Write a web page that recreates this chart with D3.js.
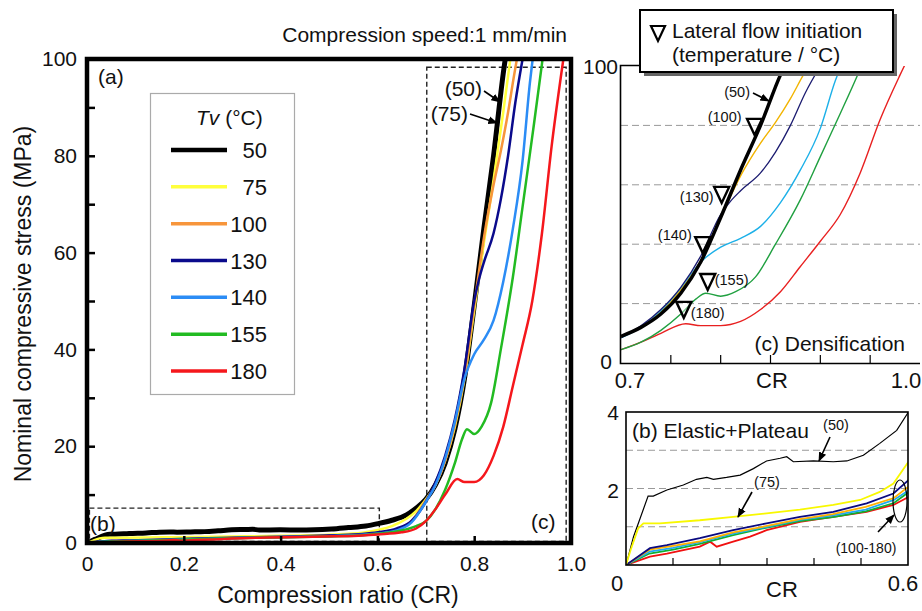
<!DOCTYPE html>
<html>
<head>
<meta charset="utf-8">
<script src="https://cdn.jsdelivr.net/npm/d3@7"></script>
<style>
body { margin: 0; background: #fff; }
text { font-family: "Liberation Sans", Arial, sans-serif; fill: #111; }
</style>
</head>
<body>
<svg id="fig" width="922" height="611"></svg>
<script>
// ---- data (CR, nominal stress MPa) ----
const temps = ["50", "75", "100", "130", "140", "155", "180"];

const cr50 = [0, 0.001, 0.016, 0.047, 0.058, 0.087, 0.122, 0.150, 0.172, 0.186, 0.214, 0.243, 0.271, 0.299, 0.328, 0.342, 0.356, 0.399, 0.441, 0.470, 0.505, 0.540, 0.576, 0.601, 0.63, 0.66, 0.68, 0.70, 0.72, 0.74, 0.76, 0.78, 0.80, 0.82, 0.84, 0.86, 0.87];
const s50 = [0, 0.04, 0.74, 1.8, 1.8, 1.96, 2.09, 2.24, 2.29, 2.24, 2.29, 2.35, 2.52, 2.72, 2.79, 2.83, 2.70, 2.72, 2.70, 2.72, 2.87, 3.18, 3.52, 4.0, 4.7, 5.8, 7.2, 9.0, 12.0, 16.5, 23.5, 34, 49, 65, 80, 97, 104];

const cr75 = [0, 0.01, 0.026, 0.037, 0.072, 0.157, 0.228, 0.299, 0.37, 0.441, 0.498, 0.54, 0.569, 0.601, 0.63, 0.66, 0.68, 0.70, 0.72, 0.74, 0.76, 0.78, 0.80, 0.82, 0.84, 0.86, 0.88];
const s75 = [0, 0.4, 0.96, 1.09, 1.09, 1.17, 1.26, 1.35, 1.45, 1.57, 1.70, 1.91, 2.13, 2.70, 3.5, 5.0, 6.6, 9.0, 12.0, 17.0, 24.0, 34.0, 48.0, 62.0, 75.0, 89.0, 104];

const cr100 = [0, 0.05, 0.1, 0.157, 0.228, 0.3, 0.37, 0.44, 0.51, 0.57, 0.601, 0.64, 0.67, 0.70, 0.72, 0.74, 0.76, 0.78, 0.80, 0.82, 0.84, 0.855, 0.87, 0.882, 0.89];
const s100 = [0, 0.4, 0.5, 0.62, 0.85, 1.02, 1.2, 1.33, 1.52, 1.75, 2.05, 2.8, 4.5, 8.8, 12.0, 17.0, 24.5, 34.5, 49.0, 63.0, 74.0, 81.0, 89.0, 96.4, 101];

const cr130 = [0, 0.051, 0.087, 0.157, 0.228, 0.299, 0.37, 0.441, 0.512, 0.569, 0.601, 0.64, 0.67, 0.70, 0.72, 0.74, 0.76, 0.78, 0.80, 0.81, 0.82, 0.84, 0.855, 0.87, 0.885, 0.90];
const s130 = [0, 0.44, 0.52, 0.70, 0.91, 1.09, 1.26, 1.39, 1.61, 1.87, 2.22, 3.0, 4.5, 8.5, 12.5, 18.0, 25.5, 36.0, 50.0, 54.5, 58.0, 64.0, 71.0, 80.0, 91.0, 100];

const cr140 = [0, 0.05, 0.1, 0.157, 0.228, 0.3, 0.37, 0.44, 0.51, 0.57, 0.601, 0.64, 0.67, 0.70, 0.72, 0.74, 0.76, 0.78, 0.80, 0.82, 0.84, 0.86, 0.88, 0.90, 0.915, 0.922];
const s140 = [0, 0.35, 0.45, 0.6, 0.82, 1.0, 1.18, 1.3, 1.45, 1.7, 1.95, 2.6, 4.2, 8.5, 12.0, 17.5, 25.0, 34.0, 39.0, 42.0, 46.0, 54.0, 65.0, 79.0, 95.0, 101];

const cr155 = [0, 0.05, 0.1, 0.157, 0.228, 0.3, 0.37, 0.44, 0.51, 0.57, 0.601, 0.65, 0.68, 0.70, 0.72, 0.74, 0.76, 0.775, 0.785, 0.80, 0.815, 0.835, 0.855, 0.88, 0.90, 0.92, 0.94, 0.945];
const s155 = [0, 0.3, 0.4, 0.55, 0.78, 0.98, 1.15, 1.25, 1.4, 1.62, 1.9, 2.6, 3.5, 4.5, 7.0, 11.0, 16.5, 21.5, 23.5, 22.5, 24.0, 29.0, 40.0, 55.0, 69.5, 84.0, 99.0, 103];

const cr180 = [0, 0.051, 0.087, 0.157, 0.179, 0.193, 0.228, 0.264, 0.299, 0.37, 0.441, 0.512, 0.569, 0.601, 0.65, 0.68, 0.70, 0.72, 0.74, 0.765, 0.78, 0.80, 0.82, 0.84, 0.86, 0.88, 0.90, 0.92, 0.94, 0.96, 0.98, 0.99];
const s180 = [0, 0.22, 0.30, 0.48, 0.61, 0.48, 0.61, 0.74, 0.91, 1.13, 1.26, 1.39, 1.57, 1.78, 2.2, 3.0, 4.5, 7.0, 10.0, 13.2, 12.6, 12.6, 14.0, 18.0, 24.0, 32.5, 41.0, 50.0, 64.0, 82.0, 97.0, 104];

// lateral flow initiation markers (inset c)
const lateralLabels = ["(100)", "(130)", "(140)", "(155)", "(180)"];
const lateralCR = [0.834, 0.801, 0.782, 0.787, 0.763];
const lateralS = [76.8, 53.9, 37.0, 24.6, 15.2];

const xTicksA = [0, 0.2, 0.4, 0.6, 0.8, 1.0];

// ---- styles ----
const colorsA = ["#000000", "#ffff3c", "#f7953b", "#0a0a8c", "#2b8cf5", "#22bb22", "#f5171c"];
const widthsA = [5, 2.5, 2.5, 2.5, 2.5, 2.5, 2.5];
const colorsB = ["#000000", "#f8f800", "#ffb000", "#0a0a80", "#1eaaf0", "#10b030", "#f01010"];
const colorsC = ["#000000", "#ffff3c", "#f2b400", "#1b1b70", "#1cb0e8", "#20a040", "#e82020"];
const widthsC = [3.5, 1.3, 1.4, 1.3, 1.4, 1.4, 1.4];

const allCR = [cr50, cr75, cr100, cr130, cr140, cr155, cr180];
const allS = [s50, s75, s100, s130, s140, s155, s180];
const series = temps.map((t, i) => ({
  t: t, idx: i,
  pts: allCR[i].map((c, j) => [c, allS[i][j]])
}));

const svg = d3.select("#fig");
const defs = svg.append("defs");
defs.append("marker")
    .attr("id", "arrow")
    .attr("viewBox", "0 0 10 10")
    .attr("refX", 9).attr("refY", 5)
    .attr("markerWidth", 6).attr("markerHeight", 6)
    .attr("orient", "auto")
  .append("path")
    .attr("d", "M0,1L10,5L0,9Z")
    .attr("fill", "#000");

function clip(id, x0, y0, x1, y1) {
  defs.append("clipPath").attr("id", id)
    .append("rect").attr("x", x0).attr("y", y0).attr("width", x1 - x0).attr("height", y1 - y0);
}

function arrow(g, x1, y1, x2, y2) {
  g.append("line")
      .attr("x1", x1).attr("y1", y1).attr("x2", x2).attr("y2", y2)
      .attr("stroke", "#000").attr("stroke-width", 1.6)
      .attr("marker-end", "url(#arrow)");
}

// =====================================================
// (a) main panel
const xA = d3.scaleLinear().domain([0, 1]).range([87, 571]);
const yA = d3.scaleLinear().domain([0, 100]).range([543, 59]);
clip("clipA", 87, 59, 571, 543);

const gA = svg.append("g");
const lineA = d3.line().x((d) => xA(d[0])).y((d) => yA(d[1])).curve(d3.curveMonotoneX);

// dashed zoom boxes
gA.append("rect")
    .attr("x", xA(0.005)).attr("y", yA(7.2))
    .attr("width", xA(0.604) - xA(0.005)).attr("height", yA(0.3) - yA(7.2))
    .attr("fill", "none").attr("stroke", "#222").attr("stroke-width", 1.4)
    .attr("stroke-dasharray", "5,3");
gA.append("rect")
    .attr("x", xA(0.702)).attr("y", yA(98.3))
    .attr("width", xA(0.99) - xA(0.702)).attr("height", yA(0.3) - yA(98.3))
    .attr("fill", "none").attr("stroke", "#222").attr("stroke-width", 1.4)
    .attr("stroke-dasharray", "5,3");

gA.append("g").attr("clip-path", "url(#clipA)")
  .selectAll("path")
  .data(series)
  .join("path")
    .attr("d", (d) => lineA(d.pts))
    .attr("fill", "none")
    .attr("stroke", (d) => colorsA[d.idx])
    .attr("stroke-width", (d) => widthsA[d.idx])
    .attr("stroke-linejoin", "round");

// axes
const axA_y = gA.append("g")
    .attr("transform", `translate(${xA(0)},0)`)
    .call(d3.axisLeft(yA).tickValues(d3.range(0, 101, 10)).tickSize(-8).tickPadding(10)
        .tickFormat((d) => d % 20 === 0 ? d : ""));
const axA_x = gA.append("g")
    .attr("transform", `translate(0,${yA(0)})`)
    .call(d3.axisBottom(xA).tickValues(xTicksA).tickSize(-7).tickPadding(13)
        .tickFormat((d) => d === 0 ? "0" : d.toFixed(1)));
[axA_y, axA_x].forEach((ax) => {
  ax.select(".domain").remove();
  ax.selectAll(".tick line").attr("stroke", "#000").attr("stroke-width", 2.5);
  ax.selectAll("text").attr("font-size", 21).attr("fill", "#111")
      .attr("font-family", "Liberation Sans, Arial, sans-serif");
});

gA.append("rect")
    .attr("x", 87).attr("y", 59).attr("width", 484).attr("height", 484)
    .attr("fill", "none").attr("stroke", "#000").attr("stroke-width", 4.5);

gA.append("text").attr("x", 567).attr("y", 42).attr("text-anchor", "end")
    .attr("font-size", 21).text("Compression speed:1 mm/min");
gA.append("text").attr("x", 338).attr("y", 603).attr("text-anchor", "middle")
    .attr("font-size", 23).text("Compression ratio (CR)");
gA.append("text")
    .attr("transform", "translate(31,304) rotate(-90)")
    .attr("text-anchor", "middle").attr("font-size", 23)
    .text("Nominal compressive stress (MPa)");
gA.append("text").attr("x", 98).attr("y", 84).attr("font-size", 21).text("(a)");
gA.append("text").attr("x", 90).attr("y", 531).attr("font-size", 21).text("(b)");
gA.append("text").attr("x", 531).attr("y", 529).attr("font-size", 21).text("(c)");

gA.append("text").attr("x", 482).attr("y", 96).attr("text-anchor", "end")
    .attr("font-size", 21).text("(50)");
gA.append("text").attr("x", 468).attr("y", 121).attr("text-anchor", "end")
    .attr("font-size", 21).text("(75)");
arrow(gA, 484, 91, 500, 102);
arrow(gA, 470, 114, 497, 123);

// legend
const legA = gA.append("g");
legA.append("rect").attr("x", 150.5).attr("y", 93.5).attr("width", 144).attr("height", 301)
    .attr("fill", "#fff").attr("stroke", "#aaa").attr("stroke-width", 1.2);
const tvLabel = legA.append("text").attr("x", 196).attr("y", 125).attr("font-size", 21);
tvLabel.append("tspan").attr("font-style", "italic").text("Tv");
tvLabel.append("tspan").text(" (°C)");
const legRow = d3.scalePoint().domain(temps).range([150, 371]);
const legItems = legA.selectAll(".leg").data(series).join("g").attr("class", "leg")
    .attr("transform", (d) => `translate(0,${legRow(d.t)})`);
legItems.append("line").attr("x1", 171).attr("x2", 227)
    .attr("stroke", (d) => colorsA[d.idx])
    .attr("stroke-width", (d) => d.idx === 0 ? 4.5 : 3.5);
legItems.append("text").attr("x", 267).attr("y", 8).attr("text-anchor", "end")
    .attr("font-size", 22).text((d) => d.t);

// =====================================================
// (c) Densification inset
const xC = d3.scaleLinear().domain([0.7, 1.0]).range([621, 920]);
const yC = d3.scaleLinear().domain([0, 100]).range([363, 66]);
clip("clipC", 621, 66, 920, 363);
const gC = svg.append("g");
const lineC = d3.line().x((d) => xC(d[0])).y((d) => yC(d[1])).curve(d3.curveMonotoneX);

gC.selectAll(".gridC").data([20, 40, 60, 80]).join("line")
    .attr("x1", 621).attr("x2", 920)
    .attr("y1", (d) => yC(d)).attr("y2", (d) => yC(d))
    .attr("stroke", "#999").attr("stroke-width", 1).attr("stroke-dasharray", "7,4");

const seriesC = series.filter((d) => d.t !== "75").reverse();
gC.append("g").attr("clip-path", "url(#clipC)")
  .selectAll("path")
  .data(seriesC)
  .join("path")
    .attr("d", (d) => lineC(d.pts.filter((p) => p[0] >= 0.69)))
    .attr("fill", "none")
    .attr("stroke", (d) => colorsC[d.idx])
    .attr("stroke-width", (d) => widthsC[d.idx]);

// frame
gC.append("path")
    .attr("d", "M640,65.5H620.5V363.5H920")
    .attr("fill", "none").attr("stroke", "#000").attr("stroke-width", 1.6);
gC.selectAll(".tickC").data([0.75, 0.8, 0.85, 0.9, 0.95]).join("line")
    .attr("x1", (d) => xC(d)).attr("x2", (d) => xC(d))
    .attr("y1", 363).attr("y2", 355)
    .attr("stroke", "#000").attr("stroke-width", 1.2);

gC.append("text").attr("x", 630).attr("y", 388).attr("text-anchor", "middle").attr("font-size", 22).text("0.7");
gC.append("text").attr("x", 772).attr("y", 388).attr("text-anchor", "middle").attr("font-size", 22).text("CR");
gC.append("text").attr("x", 906).attr("y", 388).attr("text-anchor", "middle").attr("font-size", 22).text("1.0");
gC.append("text").attr("x", 618).attr("y", 74).attr("text-anchor", "end").attr("font-size", 21).text("100");
gC.append("text").attr("x", 612).attr("y", 369).attr("text-anchor", "end").attr("font-size", 21).text("0");
gC.append("text").attr("x", 905).attr("y", 351).attr("text-anchor", "end").attr("font-size", 21).text("(c) Densification");

// lateral flow markers
const labelOffsets = [[-13, -13, "end"], [-8, -1, "end"], [-11, -13, "end"], [7, -5, "start"], [7, 0, "start"]];
lateralCR.forEach((c, i) => {
  const tx = xC(c), ty = yC(lateralS[i]);
  gC.append("path")
      .attr("d", `M${tx - 7.5},${ty - 16}L${tx + 7.5},${ty - 16}L${tx},${ty}Z`)
      .attr("fill", "#fff").attr("fill-opacity", 0.4)
      .attr("stroke", "#000").attr("stroke-width", 2.4).attr("stroke-linejoin", "miter");
  gC.append("text")
      .attr("x", tx + labelOffsets[i][0]).attr("y", ty + labelOffsets[i][1])
      .attr("text-anchor", labelOffsets[i][2])
      .attr("font-size", 14.5).text(lateralLabels[i]);
});
gC.append("text").attr("x", 750).attr("y", 97).attr("text-anchor", "end").attr("font-size", 14.5).text("(50)");
arrow(gC, 753, 93, 769, 101);

// legend box of inset c
gC.append("rect").attr("x", 644).attr("y", 14).attr("width", 253).attr("height", 62).attr("fill", "#666");
gC.append("rect").attr("x", 640).attr("y", 10).attr("width", 253).attr("height", 62)
    .attr("fill", "#fff").attr("stroke", "#000").attr("stroke-width", 2);
gC.append("path").attr("d", "M651,26H665L658,41Z")
    .attr("fill", "none").attr("stroke", "#000").attr("stroke-width", 2.2);
gC.append("text").attr("x", 672).attr("y", 38).attr("font-size", 21).text("Lateral flow initiation");
gC.append("text").attr("x", 672).attr("y", 62).attr("font-size", 21).text("(temperature / °C)");

// =====================================================
// (b) Elastic + Plateau inset
const xB = d3.scaleLinear().domain([0, 0.6]).range([626, 908]);
const yB = d3.scaleLinear().domain([0, 4]).range([565, 412]);
clip("clipB", 626, 412, 908, 565);
const gB = svg.append("g");
const lineB = d3.line().x((d) => xB(d[0])).y((d) => yB(d[1]));

gB.selectAll(".gridB").data([1, 2, 3]).join("line")
    .attr("x1", 626).attr("x2", 908)
    .attr("y1", (d) => yB(d)).attr("y2", (d) => yB(d))
    .attr("stroke", "#999").attr("stroke-width", 1).attr("stroke-dasharray", "7,4");

const orderB = [0, 6, 5, 4, 2, 3, 1];
gB.append("g").attr("clip-path", "url(#clipB)")
  .selectAll("path")
  .data(orderB.map((i) => series[i]))
  .join("path")
    .attr("d", (d) => lineB(d.pts.filter((p) => p[0] <= 0.62)))
    .attr("fill", "none")
    .attr("stroke", (d) => colorsB[d.idx])
    .attr("stroke-width", (d) => d.idx === 0 ? 1.2 : 1.8);

gB.append("rect").attr("x", 626).attr("y", 412).attr("width", 282).attr("height", 153)
    .attr("fill", "none").attr("stroke", "#000").attr("stroke-width", 1.6);
gB.selectAll(".tickB").data([0.1, 0.2, 0.3, 0.4, 0.5]).join("line")
    .attr("x1", (d) => xB(d)).attr("x2", (d) => xB(d))
    .attr("y1", 565).attr("y2", 558)
    .attr("stroke", "#000").attr("stroke-width", 1.2);

gB.append("text").attr("x", 619).attr("y", 420).attr("text-anchor", "end").attr("font-size", 21).text("4");
gB.append("text").attr("x", 619).attr("y", 498).attr("text-anchor", "end").attr("font-size", 21).text("2");
gB.append("text").attr("x", 617).attr("y", 591).attr("text-anchor", "middle").attr("font-size", 22).text("0");
gB.append("text").attr("x", 903).attr("y", 591).attr("text-anchor", "middle").attr("font-size", 22).text("0.6");
gB.append("text").attr("x", 782).attr("y", 597).attr("text-anchor", "middle").attr("font-size", 22).text("CR");
gB.append("text").attr("x", 632).attr("y", 438).attr("font-size", 21).text("(b) Elastic+Plateau");

gB.append("text").attr("x", 836).attr("y", 430).attr("text-anchor", "middle").attr("font-size", 14.5).text("(50)");
arrow(gB, 830, 437, 819, 461);
gB.append("text").attr("x", 767).attr("y", 487).attr("text-anchor", "middle").attr("font-size", 14.5).text("(75)");
arrow(gB, 752, 492, 738, 517);
gB.append("ellipse").attr("cx", 900).attr("cy", 501).attr("rx", 7).attr("ry", 21)
    .attr("fill", "none").attr("stroke", "#000").attr("stroke-width", 1.2);
arrow(gB, 878, 532, 894, 515);
gB.append("text").attr("x", 866).attr("y", 553).attr("text-anchor", "middle").attr("font-size", 14).text("(100-180)");
</script>
</body>
</html>
